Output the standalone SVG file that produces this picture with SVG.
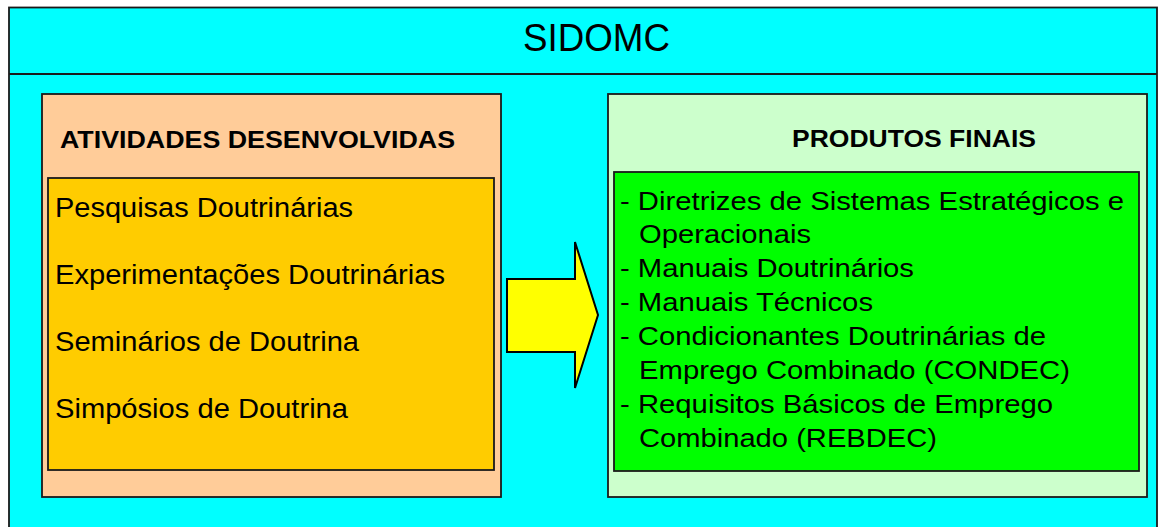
<svg xmlns="http://www.w3.org/2000/svg" width="1158" height="527" viewBox="0 0 1158 527">
<style>
.box{stroke:#1a1a1a;stroke-width:1.8}
text{font-family:"Liberation Sans",Arial,sans-serif;fill:#000}
.h{font-weight:bold;font-size:24px}
.it{font-size:27px}
.pr{font-size:25.5px}
</style>
<rect width="1158" height="527" fill="#ffffff"/>
<g id="sidomc">
<rect class="box" x="9" y="7.5" width="1148" height="530" fill="#00ffff"/>
<line x1="9" y1="74" x2="1157" y2="74" stroke="#1a1a1a" stroke-width="2"/>
<text x="523" y="51" font-size="39" textLength="147" lengthAdjust="spacingAndGlyphs">SIDOMC</text>
</g>
<g id="atividades">
<rect class="box" x="42" y="94" width="459" height="403" fill="#ffcc99"/>
<text class="h" x="60" y="148" textLength="395" lengthAdjust="spacingAndGlyphs">ATIVIDADES DESENVOLVIDAS</text>
<rect class="box" x="48" y="178" width="446" height="292" fill="#ffcc00"/>
<text class="it" x="55" y="217" textLength="298" lengthAdjust="spacingAndGlyphs">Pesquisas Doutrinárias</text>
<text class="it" x="55" y="284" textLength="390" lengthAdjust="spacingAndGlyphs">Experimentações Doutrinárias</text>
<text class="it" x="55" y="351" textLength="304" lengthAdjust="spacingAndGlyphs">Seminários de Doutrina</text>
<text class="it" x="55" y="418" textLength="293" lengthAdjust="spacingAndGlyphs">Simpósios de Doutrina</text>
</g>
<g id="connectors">
<polygon points="507,279 575,279 575,242 598,315 575,388 575,352 507,352" fill="#ffff00" stroke="#000" stroke-width="2"/>
</g>
<g id="produtos">
<rect class="box" x="608" y="94" width="539" height="403" fill="#ccffcc"/>
<text class="h" x="792" y="147" textLength="244" lengthAdjust="spacingAndGlyphs">PRODUTOS FINAIS</text>
<rect class="box" x="614" y="172" width="525" height="299" fill="#00ff00"/>
<text class="pr" x="620" y="210" textLength="504" lengthAdjust="spacingAndGlyphs">- Diretrizes de Sistemas Estratégicos e</text>
<text class="pr" x="639" y="243" textLength="172" lengthAdjust="spacingAndGlyphs">Operacionais</text>
<text class="pr" x="620" y="277" textLength="294" lengthAdjust="spacingAndGlyphs">- Manuais Doutrinários</text>
<text class="pr" x="620" y="311" textLength="253" lengthAdjust="spacingAndGlyphs">- Manuais Técnicos</text>
<text class="pr" x="620" y="345" textLength="426" lengthAdjust="spacingAndGlyphs">- Condicionantes Doutrinárias de</text>
<text class="pr" x="639" y="379" textLength="431" lengthAdjust="spacingAndGlyphs">Emprego Combinado (CONDEC)</text>
<text class="pr" x="620" y="413" textLength="433" lengthAdjust="spacingAndGlyphs">- Requisitos Básicos de Emprego</text>
<text class="pr" x="639" y="447" textLength="298" lengthAdjust="spacingAndGlyphs">Combinado (REBDEC)</text>
</g>
</svg>
